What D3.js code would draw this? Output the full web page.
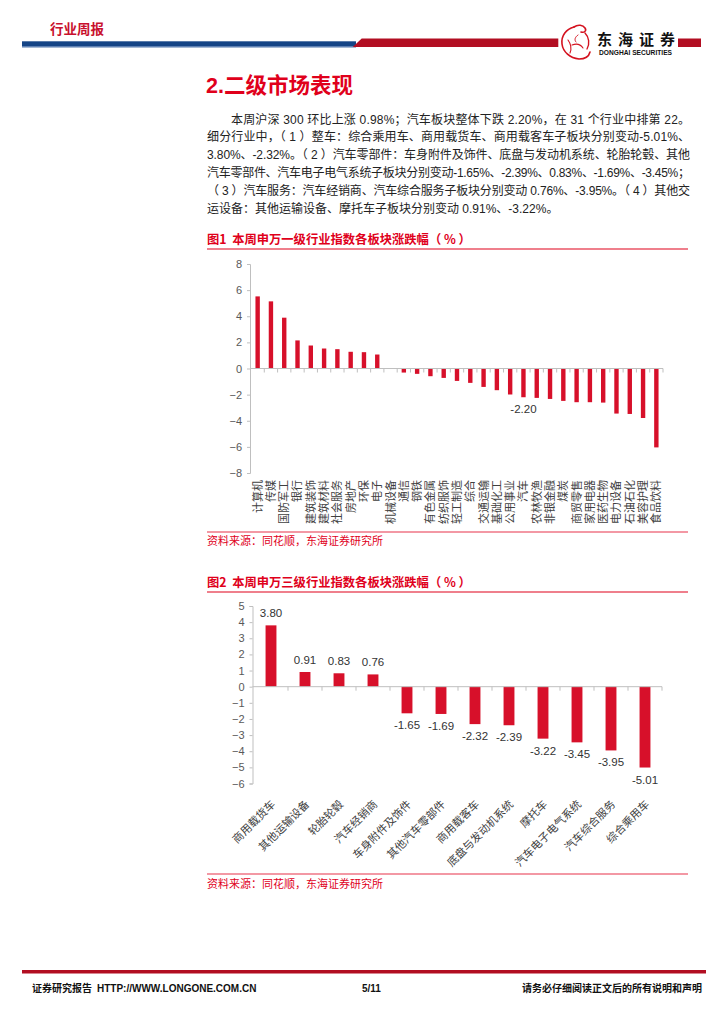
<!DOCTYPE html>
<html><head><meta charset="utf-8">
<script src="https://cdn.jsdelivr.net/npm/d3@7"></script>
<style>
html,body{margin:0;padding:0;background:#fff;}
svg{display:block;font-family:"Liberation Sans","Noto Sans CJK SC",sans-serif;}
</style></head>
<body>
<svg id="page" width="724" height="1024"></svg>
<script>
// ---------- data ----------
const cat1 = ["计算机","传媒","国防军工","银行","建筑装饰","建筑材料","社会服务","房地产","环保","电子","机械设备","通信","钢铁","有色金属","纺织服饰","轻工制造","综合","交通运输","基础化工","公用事业","汽车","农林牧渔","非银金融","煤炭","商贸零售","家用电器","医药生物","电力设备","石油石化","美容护理","食品饮料"];
const val1 = [5.52,5.14,3.89,2.15,1.76,1.53,1.48,1.28,1.25,1.07,0.02,-0.31,-0.41,-0.59,-0.72,-0.95,-1.10,-1.41,-1.66,-1.99,-2.20,-2.25,-2.33,-2.48,-2.58,-2.58,-2.61,-3.45,-3.48,-3.79,-6.04];
const ticks1 = [-8,-6,-4,-2,0,2,4,6,8];
const labeled1 = ["汽车"];

const cat2 = ["商用载货车","其他运输设备","轮胎轮毂","汽车经销商","车身附件及饰件","其他汽车零部件","商用载客车","底盘与发动机系统","摩托车","汽车电子电气系统","汽车综合服务","综合乘用车"];
const val2 = [3.80,0.91,0.83,0.76,-1.65,-1.69,-2.32,-2.39,-3.22,-3.45,-3.95,-5.01];
const ticks2 = [-6,-5,-4,-3,-2,-1,0,1,2,3,4,5];

const bodyLines = [
  "本周沪深 300 环比上涨 0.98%；汽车板块整体下跌 2.20%，在 31 个行业中排第 22。",
  "细分行业中，（ 1 ）整车：综合乘用车、商用载货车、商用载客车子板块分别变动-5.01%、",
  "3.80%、-2.32%。（ 2 ）汽车零部件：车身附件及饰件、底盘与发动机系统、轮胎轮毂、其他",
  "汽车零部件、汽车电子电气系统子板块分别变动-1.65%、-2.39%、0.83%、-1.69%、-3.45%；",
  "（ 3 ）汽车服务：汽车经销商、汽车综合服务子板块分别变动 0.76%、-3.95%。（ 4 ）其他交",
  "运设备：其他运输设备、摩托车子板块分别变动 0.91%、-3.22%。"
];

// ---------- styles ----------
const RED = "#d7102a", HRED = "#b20e22", BLUE = "#154586", AX = "#bfbfbf", TXT = "#404040";
const CJK = "'Noto Sans CJK SC',sans-serif";
const svg = d3.select("#page");

// ---------- header ----------
svg.append("text").attr("x",50).attr("y",34).attr("fill","#c8102e")
  .attr("font-family",CJK).attr("font-weight",700).attr("font-size",13.5).text("行业周报");
svg.append("rect").attr("x",22).attr("y",41.3).attr("width",334).attr("height",6).attr("fill",BLUE);
svg.append("rect").attr("x",22).attr("y",46.3).attr("width",334).attr("height",1).attr("fill","#7f9cc8");
svg.append("path").attr("d","M361.7,38.5 L558.3,38.5 L558.3,47 L352.7,47 Z").attr("fill",HRED);
svg.append("rect").attr("x",678).attr("y",38.5).attr("width",23).attr("height",8.5).attr("fill",HRED);
// logo (stylised dragon)
const lg = svg.append("g").attr("fill","none").attr("stroke","#d4121f").attr("stroke-linecap","round");
lg.append("path").attr("d","M574,27 C566,29 561,36 562,44 C563,52 570,58 579,59 C585,59 589,56 590,52").attr("stroke-width",1.6);
lg.append("path").attr("d","M574,27 C578,24 583,25 585,28 C587,31 584,33 581,32").attr("stroke-width",1.6);
lg.append("path").attr("d","M585,33 C589,37 590,44 587,49").attr("stroke-width",1.4);
lg.append("path").attr("d","M568,40 C571,44 572,48 570,53 M572,45 C577,43 581,45 583,48").attr("stroke-width",1.1);
lg.append("path").attr("d","M578,35 C575,37 574,40 576,42").attr("stroke-width",1);
svg.append("text").attr("x",597).attr("y",45).attr("fill","#111").attr("font-family",CJK)
  .attr("font-weight",700).attr("font-size",15).attr("textLength",78).attr("lengthAdjust","spacing").text("东海证券");
svg.append("text").attr("x",599).attr("y",54.5).attr("fill","#111").attr("font-family","'Liberation Sans',sans-serif")
  .attr("font-weight",700).attr("font-size",6.4).attr("textLength",73).attr("lengthAdjust","spacingAndGlyphs").text("DONGHAI SECURITIES");

// ---------- heading & body ----------
svg.append("text").attr("x",206).attr("y",93).attr("fill","#e0001b")
  .attr("font-weight",700).attr("font-size",21.5).text("2.二级市场表现");
bodyLines.forEach((s,i)=>{
  const t = svg.append("text").attr("x", i===0?231:207).attr("y",123.5+i*17.8)
    .attr("fill","#222").attr("font-size",12).style("white-space","pre").text(s);
  if(i<5) t.attr("textLength", i===0?459:483).attr("lengthAdjust","spacing");
});

// ---------- helpers ----------
function chartFrame(titleY, lineY, srcLineY, srcY, title){
  svg.append("text").attr("x",207).attr("y",titleY).attr("fill","#e0001b").attr("font-family",CJK)
    .attr("font-weight",700).attr("font-size",12.3).style("white-space","pre").text(title);
  svg.append("line").attr("x1",207).attr("x2",688).attr("y1",lineY).attr("y2",lineY)
    .attr("stroke","#e0001b").attr("stroke-width",1.2);
  svg.append("line").attr("x1",207).attr("x2",688).attr("y1",srcLineY).attr("y2",srcLineY)
    .attr("stroke","#e8334a").attr("stroke-width",1.2);
  svg.append("text").attr("x",207).attr("y",srcY).attr("fill","#e0001b").attr("font-family",CJK)
    .attr("font-size",11).text("资料来源：同花顺，东海证券研究所");
}
function yAxis(y, x0, ticks){
  const g = svg.append("g").attr("transform",`translate(${x0},0)`)
    .call(d3.axisLeft(y).tickValues(ticks).tickSize(3).tickPadding(5).tickFormat(d3.format("d")));
  g.select(".domain").attr("stroke",AX);
  g.selectAll(".tick line").attr("stroke",AX);
  g.selectAll(".tick text").attr("fill","#595959").attr("font-size",11)
    .attr("font-family","'Liberation Sans',sans-serif");
}
function zeroLine(x, y, x0){
  const r = x.range(), st = x.step();
  svg.append("line").attr("x1",x0).attr("x2",r[1]).attr("y1",y(0)).attr("y2",y(0)).attr("stroke",AX);
  svg.append("g").selectAll("line").data(d3.range(1, x.domain().length+1)).join("line")
    .attr("x1",d=>r[0]+d*st).attr("x2",d=>r[0]+d*st)
    .attr("y1",y(0)).attr("y2",y(0)+4).attr("stroke",AX);
}

// ---------- chart 1 ----------
chartFrame(244, 249, 532, 545, "图1  本周申万一级行业指数各板块涨跌幅（ % ）");
const x1 = d3.scaleBand().domain(cat1).range([251,663]).paddingInner(0.67).paddingOuter(0.335);
const y1 = d3.scaleLinear().domain([-8,8]).range([473,264]);
yAxis(y1, 250, ticks1);
svg.append("g").selectAll("rect").data(cat1).join("rect")
  .attr("x",d=>x1(d)).attr("width",x1.bandwidth())
  .attr("y",(d,i)=>y1(Math.max(0,val1[i]))).attr("height",(d,i)=>Math.abs(y1(val1[i])-y1(0)))
  .attr("fill",RED);
zeroLine(x1, y1, 250);
svg.append("g").selectAll("text").data(cat1).join("text")
  .attr("transform",d=>`translate(${x1(d)+x1.bandwidth()/2},480) rotate(-90)`)
  .attr("text-anchor","end").attr("dy","0.36em").attr("fill",TXT)
  .attr("font-family",CJK).attr("font-size",11).text(d=>d);
svg.append("g").selectAll("text").data(cat1.filter(c=>labeled1.includes(c))).join("text")
  .attr("x",d=>x1(d)+x1.bandwidth()/2).attr("y",d=>y1(val1[cat1.indexOf(d)])+16)
  .attr("text-anchor","middle").attr("fill","#333").attr("font-size",11.5)
  .text(d=>val1[cat1.indexOf(d)].toFixed(2));

// ---------- chart 2 ----------
chartFrame(587, 592, 874, 888, "图2  本周申万三级行业指数各板块涨跌幅（ % ）");
const x2 = d3.scaleBand().domain(cat2).range([254,662]).paddingInner(0.68).paddingOuter(0.34);
const y2 = d3.scaleLinear().domain([-6,5]).range([783.5,606]);
yAxis(y2, 252.5, ticks2);
svg.append("g").selectAll("rect").data(cat2).join("rect")
  .attr("x",d=>x2(d)).attr("width",x2.bandwidth())
  .attr("y",(d,i)=>y2(Math.max(0,val2[i]))).attr("height",(d,i)=>Math.abs(y2(val2[i])-y2(0)))
  .attr("fill",RED);
zeroLine(x2, y2, 252.5);
svg.append("g").selectAll("text").data(cat2).join("text")
  .attr("x",d=>x2(d)+x2.bandwidth()/2)
  .attr("y",(d,i)=>val2[i]>=0 ? y2(val2[i])-8 : y2(val2[i])+16)
  .attr("text-anchor","middle").attr("fill","#333").attr("font-size",11.5)
  .text((d,i)=>val2[i].toFixed(2));
svg.append("g").selectAll("text").data(cat2).join("text")
  .attr("transform",d=>`translate(${x2(d)+x2.bandwidth()/2+5},805) rotate(-45)`)
  .attr("text-anchor","end").attr("fill",TXT)
  .attr("font-family",CJK).attr("font-size",11).text(d=>d);

// ---------- footer ----------
svg.append("rect").attr("x",22).attr("y",970).attr("width",684).attr("height",3.5).attr("fill",HRED);
const ft = svg.append("g").attr("font-weight",700).attr("font-size",10).attr("fill","#111");
ft.append("text").attr("x",32).attr("y",992).attr("font-family",CJK).text("证券研究报告");
ft.append("text").attr("x",97).attr("y",992).text("HTTP://WWW.LONGONE.COM.CN");
ft.append("text").attr("x",362).attr("y",992).text("5/11");
ft.append("text").attr("x",702).attr("y",992).attr("text-anchor","end").attr("font-family",CJK).text("请务必仔细阅读正文后的所有说明和声明");
</script>
</body></html>
